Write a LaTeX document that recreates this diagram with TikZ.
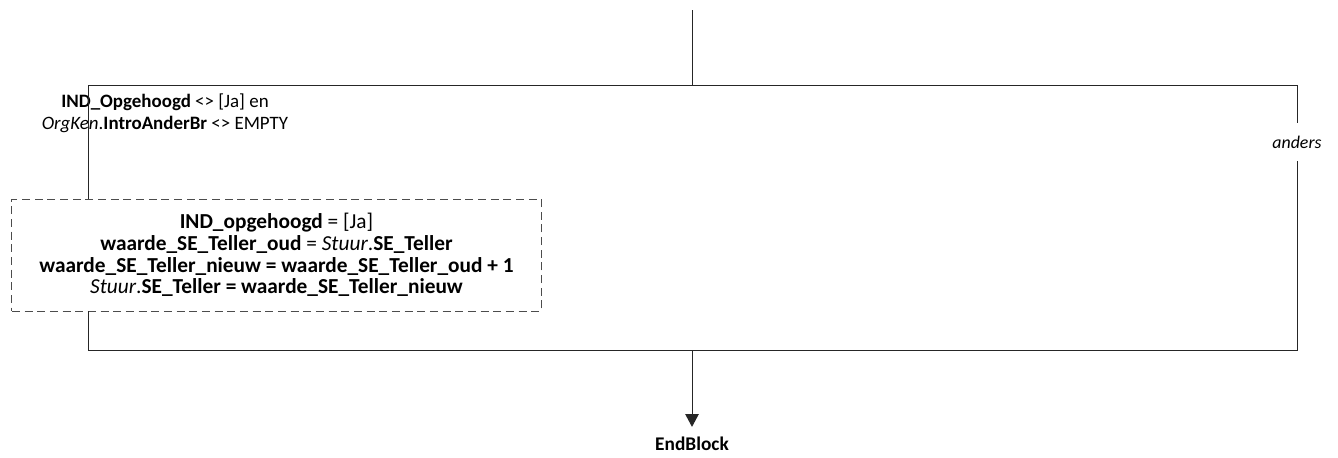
\documentclass[tikz,border=0pt]{standalone}
\usepackage{fontspec}
\setmainfont{Carlito}
\usetikzlibrary{arrows.meta}
\begin{document}
\begin{tikzpicture}[x=0.75pt,y=-0.75pt,
    flow/.style={draw=black!85,line width=0.7pt},
    assignbox/.style={draw=black!70,dashed,dash pattern=on 6pt off 3.5pt,line width=0.7pt,
      align=center,minimum width=397pt,minimum height=84pt,inner sep=0pt,
      font=\fontsize{16pt}{16.3pt}\selectfont},
    cond/.style={align=center,inner sep=0pt,font=\fontsize{14.2pt}{16.5pt}\selectfont}]
    \useasboundingbox (0,0) rectangle (1338,457);

    % ingang en splitsing
    \coordinate (start) at (692,10);
    \coordinate (split) at (692,85);
    \coordinate (lt) at (88,85);
    \coordinate (rt) at (1297,85);
    \draw[flow] (start) -- (split);
    \draw[flow] (lt) -- (rt);

    % linker tak: voorwaarde en toekenningen
    \node[cond] (voorw) at (165,113) {\textbf{IND\_Opgehoogd} <> [Ja] en\\
      \textit{OrgKen}.\textbf{IntroAnderBr} <> EMPTY};
    \node[assignbox] (toek) at (276.5,255) {\textbf{IND\_opgehoogd} = [Ja]\\
      \textbf{waarde\_SE\_Teller\_oud} = \textit{Stuur}.\textbf{SE\_Teller}\\
      \textbf{waarde\_SE\_Teller\_nieuw = waarde\_SE\_Teller\_oud + 1}\\
      \textit{Stuur}.\textbf{SE\_Teller = waarde\_SE\_Teller\_nieuw}};
    \draw[flow] (lt) -- (toek.north -| lt);

    % rechter tak
    \node[minimum height=28.5pt,inner xsep=2pt,font=\fontsize{13.4pt}{16pt}\selectfont]
      (anders) at (1297,142) {\textit{anders}};
    \draw[flow] (rt) -- (anders);

    % samenkomst
    \coordinate (lb) at (88,350);
    \coordinate (rb) at (1297,350);
    \coordinate (join) at (692,350);
    \draw[flow] (toek.south -| lt) -- (lb) -- (rb) -- (anders);

    % einde
    \node[inner xsep=4pt,inner ysep=7.5pt,font=\fontsize{14.5pt}{17pt}\selectfont]
      (eind) at (692,444) {\textbf{EndBlock}};
    \draw[flow,-{Triangle[width=10pt,length=9.5pt]}] (join) -- (eind);
\end{tikzpicture}
\end{document}
